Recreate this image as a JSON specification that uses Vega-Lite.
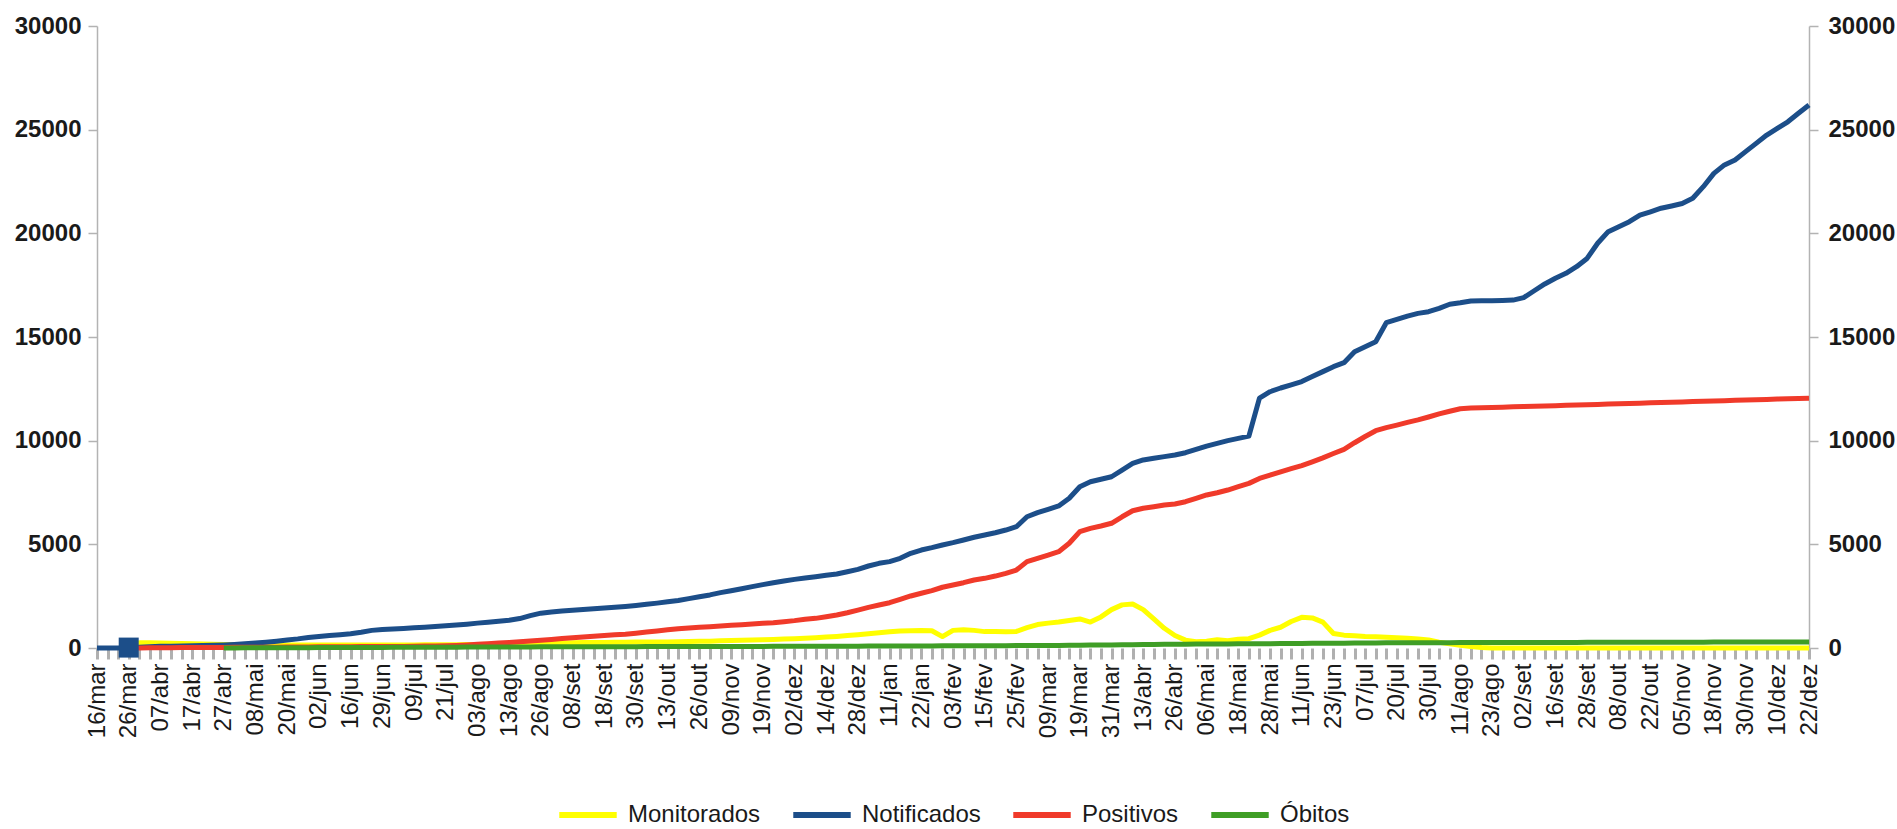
{
  "$schema": "https://vega.github.io/schema/vega-lite/v6.json",
  "width": 1712,
  "height": 622,
  "autosize": {"type": "none"},
  "padding": {"left": 97, "top": 26, "right": 88, "bottom": 181},
  "background": "white",
  "config": {
    "view": {"stroke": null},
    "font": "Liberation Sans",
    "legend": {"layout": {"bottom": {"anchor": "middle"}}}
  },
  "data": {"values": [
    {"data": "2020-03-16", "Monitorados": null, "Notificados": 0, "Positivos": null, "Óbitos": null},
    {"data": "2020-03-19", "Monitorados": null, "Notificados": 0, "Positivos": null, "Óbitos": null},
    {"data": "2020-03-23", "Monitorados": null, "Notificados": 0, "Positivos": null, "Óbitos": null},
    {"data": "2020-03-26", "Monitorados": 50, "Notificados": 20, "Positivos": 0, "Óbitos": null},
    {"data": "2020-03-30", "Monitorados": 250, "Notificados": 40, "Positivos": 5, "Óbitos": null},
    {"data": "2020-04-03", "Monitorados": 250, "Notificados": 60, "Positivos": 10, "Óbitos": null},
    {"data": "2020-04-07", "Monitorados": 240, "Notificados": 80, "Positivos": 15, "Óbitos": null},
    {"data": "2020-04-10", "Monitorados": 230, "Notificados": 90, "Positivos": 18, "Óbitos": null},
    {"data": "2020-04-14", "Monitorados": 220, "Notificados": 100, "Positivos": 20, "Óbitos": null},
    {"data": "2020-04-17", "Monitorados": 200, "Notificados": 110, "Positivos": 22, "Óbitos": null},
    {"data": "2020-04-20", "Monitorados": 190, "Notificados": 120, "Positivos": 25, "Óbitos": null},
    {"data": "2020-04-24", "Monitorados": 180, "Notificados": 130, "Positivos": 28, "Óbitos": null},
    {"data": "2020-04-27", "Monitorados": 170, "Notificados": 150, "Positivos": 30, "Óbitos": 3},
    {"data": "2020-05-01", "Monitorados": 160, "Notificados": 170, "Positivos": 32, "Óbitos": 5},
    {"data": "2020-05-04", "Monitorados": 150, "Notificados": 200, "Positivos": 34, "Óbitos": 7},
    {"data": "2020-05-08", "Monitorados": 150, "Notificados": 240, "Positivos": 36, "Óbitos": 10},
    {"data": "2020-05-12", "Monitorados": 150, "Notificados": 280, "Positivos": 38, "Óbitos": 12},
    {"data": "2020-05-16", "Monitorados": 150, "Notificados": 330, "Positivos": 41, "Óbitos": 13},
    {"data": "2020-05-20", "Monitorados": 150, "Notificados": 385, "Positivos": 45, "Óbitos": 15},
    {"data": "2020-05-24", "Monitorados": 150, "Notificados": 440, "Positivos": 48, "Óbitos": 17},
    {"data": "2020-05-29", "Monitorados": 150, "Notificados": 510, "Positivos": 51, "Óbitos": 18},
    {"data": "2020-06-02", "Monitorados": 150, "Notificados": 560, "Positivos": 55, "Óbitos": 20},
    {"data": "2020-06-07", "Monitorados": 150, "Notificados": 600, "Positivos": 58, "Óbitos": 22},
    {"data": "2020-06-11", "Monitorados": 150, "Notificados": 640, "Positivos": 61, "Óbitos": 23},
    {"data": "2020-06-16", "Monitorados": 150, "Notificados": 690, "Positivos": 65, "Óbitos": 25},
    {"data": "2020-06-20", "Monitorados": 150, "Notificados": 760, "Positivos": 67, "Óbitos": 27},
    {"data": "2020-06-25", "Monitorados": 150, "Notificados": 850, "Positivos": 68, "Óbitos": 28},
    {"data": "2020-06-29", "Monitorados": 150, "Notificados": 890, "Positivos": 70, "Óbitos": 30},
    {"data": "2020-07-02", "Monitorados": 150, "Notificados": 915, "Positivos": 73, "Óbitos": 32},
    {"data": "2020-07-06", "Monitorados": 150, "Notificados": 945, "Positivos": 76, "Óbitos": 33},
    {"data": "2020-07-09", "Monitorados": 150, "Notificados": 975, "Positivos": 85, "Óbitos": 35},
    {"data": "2020-07-13", "Monitorados": 155, "Notificados": 1000, "Positivos": 92, "Óbitos": 37},
    {"data": "2020-07-17", "Monitorados": 155, "Notificados": 1035, "Positivos": 100, "Óbitos": 38},
    {"data": "2020-07-21", "Monitorados": 160, "Notificados": 1070, "Positivos": 110, "Óbitos": 40},
    {"data": "2020-07-25", "Monitorados": 160, "Notificados": 1110, "Positivos": 125, "Óbitos": 42},
    {"data": "2020-07-30", "Monitorados": 165, "Notificados": 1150, "Positivos": 150, "Óbitos": 43},
    {"data": "2020-08-03", "Monitorados": 170, "Notificados": 1200, "Positivos": 180, "Óbitos": 45},
    {"data": "2020-08-06", "Monitorados": 175, "Notificados": 1245, "Positivos": 210, "Óbitos": 47},
    {"data": "2020-08-10", "Monitorados": 180, "Notificados": 1290, "Positivos": 240, "Óbitos": 48},
    {"data": "2020-08-13", "Monitorados": 190, "Notificados": 1340, "Positivos": 265, "Óbitos": 50},
    {"data": "2020-08-17", "Monitorados": 200, "Notificados": 1420, "Positivos": 300, "Óbitos": 52},
    {"data": "2020-08-22", "Monitorados": 210, "Notificados": 1560, "Positivos": 340, "Óbitos": 53},
    {"data": "2020-08-26", "Monitorados": 220, "Notificados": 1680, "Positivos": 375, "Óbitos": 55},
    {"data": "2020-08-30", "Monitorados": 230, "Notificados": 1740, "Positivos": 415, "Óbitos": 57},
    {"data": "2020-09-04", "Monitorados": 240, "Notificados": 1785, "Positivos": 455, "Óbitos": 58},
    {"data": "2020-09-08", "Monitorados": 250, "Notificados": 1825, "Positivos": 495, "Óbitos": 60},
    {"data": "2020-09-11", "Monitorados": 260, "Notificados": 1860, "Positivos": 535, "Óbitos": 61},
    {"data": "2020-09-15", "Monitorados": 265, "Notificados": 1895, "Positivos": 570, "Óbitos": 62},
    {"data": "2020-09-18", "Monitorados": 270, "Notificados": 1925, "Positivos": 600, "Óbitos": 63},
    {"data": "2020-09-22", "Monitorados": 275, "Notificados": 1965, "Positivos": 635, "Óbitos": 64},
    {"data": "2020-09-26", "Monitorados": 280, "Notificados": 2005, "Positivos": 665, "Óbitos": 65},
    {"data": "2020-09-30", "Monitorados": 285, "Notificados": 2055, "Positivos": 715, "Óbitos": 66},
    {"data": "2020-10-04", "Monitorados": 290, "Notificados": 2105, "Positivos": 770, "Óbitos": 67},
    {"data": "2020-10-09", "Monitorados": 295, "Notificados": 2165, "Positivos": 825, "Óbitos": 68},
    {"data": "2020-10-13", "Monitorados": 295, "Notificados": 2230, "Positivos": 875, "Óbitos": 70},
    {"data": "2020-10-17", "Monitorados": 300, "Notificados": 2290, "Positivos": 930, "Óbitos": 71},
    {"data": "2020-10-22", "Monitorados": 310, "Notificados": 2380, "Positivos": 970, "Óbitos": 71},
    {"data": "2020-10-26", "Monitorados": 320, "Notificados": 2475, "Positivos": 1000, "Óbitos": 72},
    {"data": "2020-10-31", "Monitorados": 330, "Notificados": 2560, "Positivos": 1030, "Óbitos": 73},
    {"data": "2020-11-04", "Monitorados": 345, "Notificados": 2670, "Positivos": 1060, "Óbitos": 74},
    {"data": "2020-11-09", "Monitorados": 360, "Notificados": 2765, "Positivos": 1095, "Óbitos": 75},
    {"data": "2020-11-12", "Monitorados": 370, "Notificados": 2860, "Positivos": 1125, "Óbitos": 76},
    {"data": "2020-11-16", "Monitorados": 380, "Notificados": 2960, "Positivos": 1160, "Óbitos": 77},
    {"data": "2020-11-19", "Monitorados": 395, "Notificados": 3055, "Positivos": 1190, "Óbitos": 78},
    {"data": "2020-11-23", "Monitorados": 410, "Notificados": 3150, "Positivos": 1220, "Óbitos": 79},
    {"data": "2020-11-28", "Monitorados": 430, "Notificados": 3230, "Positivos": 1270, "Óbitos": 80},
    {"data": "2020-12-02", "Monitorados": 450, "Notificados": 3310, "Positivos": 1320, "Óbitos": 82},
    {"data": "2020-12-06", "Monitorados": 470, "Notificados": 3375, "Positivos": 1385, "Óbitos": 83},
    {"data": "2020-12-10", "Monitorados": 500, "Notificados": 3440, "Positivos": 1430, "Óbitos": 85},
    {"data": "2020-12-14", "Monitorados": 530, "Notificados": 3505, "Positivos": 1510, "Óbitos": 86},
    {"data": "2020-12-19", "Monitorados": 560, "Notificados": 3570, "Positivos": 1590, "Óbitos": 87},
    {"data": "2020-12-23", "Monitorados": 600, "Notificados": 3680, "Positivos": 1700, "Óbitos": 89},
    {"data": "2020-12-28", "Monitorados": 640, "Notificados": 3795, "Positivos": 1830, "Óbitos": 90},
    {"data": "2021-01-02", "Monitorados": 690, "Notificados": 3955, "Positivos": 1960, "Óbitos": 92},
    {"data": "2021-01-06", "Monitorados": 730, "Notificados": 4085, "Positivos": 2075, "Óbitos": 93},
    {"data": "2021-01-11", "Monitorados": 780, "Notificados": 4165, "Positivos": 2185, "Óbitos": 95},
    {"data": "2021-01-15", "Monitorados": 820, "Notificados": 4325, "Positivos": 2350, "Óbitos": 97},
    {"data": "2021-01-18", "Monitorados": 830, "Notificados": 4565, "Positivos": 2510, "Óbitos": 98},
    {"data": "2021-01-22", "Monitorados": 840, "Notificados": 4725, "Positivos": 2640, "Óbitos": 100},
    {"data": "2021-01-26", "Monitorados": 830, "Notificados": 4840, "Positivos": 2765, "Óbitos": 102},
    {"data": "2021-01-30", "Monitorados": 550, "Notificados": 4970, "Positivos": 2930, "Óbitos": 103},
    {"data": "2021-02-03", "Monitorados": 850, "Notificados": 5080, "Positivos": 3040, "Óbitos": 105},
    {"data": "2021-02-07", "Monitorados": 880, "Notificados": 5210, "Positivos": 3150, "Óbitos": 107},
    {"data": "2021-02-11", "Monitorados": 850, "Notificados": 5340, "Positivos": 3280, "Óbitos": 108},
    {"data": "2021-02-15", "Monitorados": 790, "Notificados": 5450, "Positivos": 3360, "Óbitos": 110},
    {"data": "2021-02-18", "Monitorados": 800, "Notificados": 5560, "Positivos": 3470, "Óbitos": 112},
    {"data": "2021-02-22", "Monitorados": 780, "Notificados": 5690, "Positivos": 3600, "Óbitos": 113},
    {"data": "2021-02-25", "Monitorados": 800, "Notificados": 5850, "Positivos": 3760, "Óbitos": 115},
    {"data": "2021-03-01", "Monitorados": 980, "Notificados": 6330, "Positivos": 4165, "Óbitos": 117},
    {"data": "2021-03-05", "Monitorados": 1130, "Notificados": 6530, "Positivos": 4325, "Óbitos": 120},
    {"data": "2021-03-09", "Monitorados": 1200, "Notificados": 6690, "Positivos": 4485, "Óbitos": 122},
    {"data": "2021-03-12", "Monitorados": 1250, "Notificados": 6850, "Positivos": 4645, "Óbitos": 126},
    {"data": "2021-03-16", "Monitorados": 1330, "Notificados": 7220, "Positivos": 5050, "Óbitos": 130},
    {"data": "2021-03-19", "Monitorados": 1400, "Notificados": 7780, "Positivos": 5610, "Óbitos": 135},
    {"data": "2021-03-23", "Monitorados": 1250, "Notificados": 8020, "Positivos": 5770, "Óbitos": 140},
    {"data": "2021-03-27", "Monitorados": 1500, "Notificados": 8140, "Positivos": 5885, "Óbitos": 145},
    {"data": "2021-03-31", "Monitorados": 1850, "Notificados": 8260, "Positivos": 6015, "Óbitos": 150},
    {"data": "2021-04-04", "Monitorados": 2080, "Notificados": 8580, "Positivos": 6330, "Óbitos": 155},
    {"data": "2021-04-09", "Monitorados": 2120, "Notificados": 8900, "Positivos": 6620, "Óbitos": 160},
    {"data": "2021-04-13", "Monitorados": 1850, "Notificados": 9070, "Positivos": 6740, "Óbitos": 165},
    {"data": "2021-04-17", "Monitorados": 1400, "Notificados": 9150, "Positivos": 6815, "Óbitos": 170},
    {"data": "2021-04-22", "Monitorados": 950, "Notificados": 9230, "Positivos": 6900, "Óbitos": 175},
    {"data": "2021-04-26", "Monitorados": 600, "Notificados": 9310, "Positivos": 6945, "Óbitos": 180},
    {"data": "2021-04-29", "Monitorados": 380, "Notificados": 9420, "Positivos": 7055, "Óbitos": 183},
    {"data": "2021-05-03", "Monitorados": 300, "Notificados": 9580, "Positivos": 7220, "Óbitos": 187},
    {"data": "2021-05-06", "Monitorados": 330, "Notificados": 9740, "Positivos": 7380, "Óbitos": 190},
    {"data": "2021-05-10", "Monitorados": 400, "Notificados": 9870, "Positivos": 7490, "Óbitos": 193},
    {"data": "2021-05-14", "Monitorados": 350, "Notificados": 10000, "Positivos": 7620, "Óbitos": 197},
    {"data": "2021-05-18", "Monitorados": 420, "Notificados": 10110, "Positivos": 7780, "Óbitos": 200},
    {"data": "2021-05-21", "Monitorados": 450, "Notificados": 10220, "Positivos": 7940, "Óbitos": 203},
    {"data": "2021-05-25", "Monitorados": 620, "Notificados": 12050, "Positivos": 8180, "Óbitos": 207},
    {"data": "2021-05-28", "Monitorados": 850, "Notificados": 12360, "Positivos": 8340, "Óbitos": 210},
    {"data": "2021-06-02", "Monitorados": 1000, "Notificados": 12540, "Positivos": 8500, "Óbitos": 213},
    {"data": "2021-06-06", "Monitorados": 1280, "Notificados": 12690, "Positivos": 8650, "Óbitos": 217},
    {"data": "2021-06-11", "Monitorados": 1480, "Notificados": 12850, "Positivos": 8800, "Óbitos": 220},
    {"data": "2021-06-15", "Monitorados": 1450, "Notificados": 13090, "Positivos": 8980, "Óbitos": 224},
    {"data": "2021-06-19", "Monitorados": 1250, "Notificados": 13330, "Positivos": 9170, "Óbitos": 228},
    {"data": "2021-06-23", "Monitorados": 700, "Notificados": 13570, "Positivos": 9380, "Óbitos": 232},
    {"data": "2021-06-28", "Monitorados": 620, "Notificados": 13760, "Positivos": 9580, "Óbitos": 235},
    {"data": "2021-07-02", "Monitorados": 590, "Notificados": 14290, "Positivos": 9900, "Óbitos": 239},
    {"data": "2021-07-07", "Monitorados": 560, "Notificados": 14530, "Positivos": 10200, "Óbitos": 242},
    {"data": "2021-07-11", "Monitorados": 545, "Notificados": 14770, "Positivos": 10480, "Óbitos": 245},
    {"data": "2021-07-16", "Monitorados": 520, "Notificados": 15690, "Positivos": 10630, "Óbitos": 248},
    {"data": "2021-07-20", "Monitorados": 500, "Notificados": 15850, "Positivos": 10750, "Óbitos": 250},
    {"data": "2021-07-23", "Monitorados": 470, "Notificados": 16010, "Positivos": 10880, "Óbitos": 252},
    {"data": "2021-07-27", "Monitorados": 430, "Notificados": 16140, "Positivos": 11000, "Óbitos": 253},
    {"data": "2021-07-30", "Monitorados": 385, "Notificados": 16220, "Positivos": 11140, "Óbitos": 255},
    {"data": "2021-08-03", "Monitorados": 280, "Notificados": 16380, "Positivos": 11290, "Óbitos": 257},
    {"data": "2021-08-07", "Monitorados": 200, "Notificados": 16580, "Positivos": 11420, "Óbitos": 258},
    {"data": "2021-08-11", "Monitorados": 130, "Notificados": 16650, "Positivos": 11540, "Óbitos": 260},
    {"data": "2021-08-15", "Monitorados": 70, "Notificados": 16740, "Positivos": 11570, "Óbitos": 261},
    {"data": "2021-08-19", "Monitorados": 20, "Notificados": 16750, "Positivos": 11590, "Óbitos": 262},
    {"data": "2021-08-23", "Monitorados": 0, "Notificados": 16750, "Positivos": 11600, "Óbitos": 263},
    {"data": "2021-08-26", "Monitorados": 0, "Notificados": 16760, "Positivos": 11615, "Óbitos": 264},
    {"data": "2021-08-30", "Monitorados": 0, "Notificados": 16780, "Positivos": 11630, "Óbitos": 265},
    {"data": "2021-09-02", "Monitorados": 0, "Notificados": 16900, "Positivos": 11645, "Óbitos": 266},
    {"data": "2021-09-07", "Monitorados": 0, "Notificados": 17230, "Positivos": 11660, "Óbitos": 267},
    {"data": "2021-09-11", "Monitorados": 0, "Notificados": 17560, "Positivos": 11675, "Óbitos": 268},
    {"data": "2021-09-16", "Monitorados": 0, "Notificados": 17830, "Positivos": 11690, "Óbitos": 269},
    {"data": "2021-09-20", "Monitorados": 0, "Notificados": 18070, "Positivos": 11705, "Óbitos": 270},
    {"data": "2021-09-24", "Monitorados": 0, "Notificados": 18390, "Positivos": 11720, "Óbitos": 271},
    {"data": "2021-09-28", "Monitorados": 0, "Notificados": 18790, "Positivos": 11735, "Óbitos": 272},
    {"data": "2021-10-01", "Monitorados": 0, "Notificados": 19520, "Positivos": 11750, "Óbitos": 273},
    {"data": "2021-10-05", "Monitorados": 0, "Notificados": 20080, "Positivos": 11765, "Óbitos": 274},
    {"data": "2021-10-08", "Monitorados": 0, "Notificados": 20320, "Positivos": 11780, "Óbitos": 275},
    {"data": "2021-10-13", "Monitorados": 0, "Notificados": 20560, "Positivos": 11795, "Óbitos": 276},
    {"data": "2021-10-17", "Monitorados": 0, "Notificados": 20880, "Positivos": 11810, "Óbitos": 277},
    {"data": "2021-10-22", "Monitorados": 0, "Notificados": 21040, "Positivos": 11825, "Óbitos": 278},
    {"data": "2021-10-27", "Monitorados": 0, "Notificados": 21210, "Positivos": 11840, "Óbitos": 279},
    {"data": "2021-10-31", "Monitorados": 0, "Notificados": 21320, "Positivos": 11855, "Óbitos": 280},
    {"data": "2021-11-05", "Monitorados": 0, "Notificados": 21440, "Positivos": 11870, "Óbitos": 281},
    {"data": "2021-11-09", "Monitorados": 0, "Notificados": 21690, "Positivos": 11885, "Óbitos": 282},
    {"data": "2021-11-14", "Monitorados": 0, "Notificados": 22250, "Positivos": 11900, "Óbitos": 283},
    {"data": "2021-11-18", "Monitorados": 0, "Notificados": 22890, "Positivos": 11915, "Óbitos": 284},
    {"data": "2021-11-22", "Monitorados": 0, "Notificados": 23300, "Positivos": 11930, "Óbitos": 285},
    {"data": "2021-11-26", "Monitorados": 0, "Notificados": 23540, "Positivos": 11945, "Óbitos": 286},
    {"data": "2021-11-30", "Monitorados": 0, "Notificados": 23940, "Positivos": 11960, "Óbitos": 287},
    {"data": "2021-12-03", "Monitorados": 0, "Notificados": 24340, "Positivos": 11975, "Óbitos": 288},
    {"data": "2021-12-07", "Monitorados": 0, "Notificados": 24740, "Positivos": 11990, "Óbitos": 288},
    {"data": "2021-12-10", "Monitorados": 0, "Notificados": 25060, "Positivos": 12005, "Óbitos": 289},
    {"data": "2021-12-14", "Monitorados": 0, "Notificados": 25380, "Positivos": 12020, "Óbitos": 289},
    {"data": "2021-12-18", "Monitorados": 0, "Notificados": 25790, "Positivos": 12030, "Óbitos": 290},
    {"data": "2021-12-22", "Monitorados": 0, "Notificados": 26190, "Positivos": 12040, "Óbitos": 290}
  ]},
  "transform": [
    {"fold": ["Monitorados", "Notificados", "Positivos", "Óbitos"], "as": ["serie", "valor"]}
  ],
  "layer": [
    {
      "mark": {"type": "line", "strokeWidth": 5, "strokeJoin": "round", "strokeCap": "butt"},
      "encoding": {
        "x": {
          "field": "data", "type": "ordinal", "sort": null,
          "scale": {"type": "point", "padding": 0},
          "axis": {
            "title": null,
            "domain": false,
            "ticks": true, "tickSize": 11, "tickWidth": 3, "tickColor": "#b0b0b0",
            "labelAngle": 270, "labelPadding": 4, "labelFontSize": 24, "labelColor": "#1a1a1a",
            "labelFont": "Liberation Sans", "labelOverlap": false, "labelBound": false, "labelFlush": false,
            "labelExpr": "indexof(['2020-03-16','2020-03-26','2020-04-07','2020-04-17','2020-04-27','2020-05-08','2020-05-20','2020-06-02','2020-06-16','2020-06-29','2020-07-09','2020-07-21','2020-08-03','2020-08-13','2020-08-26','2020-09-08','2020-09-18','2020-09-30','2020-10-13','2020-10-26','2020-11-09','2020-11-19','2020-12-02','2020-12-14','2020-12-28','2021-01-11','2021-01-22','2021-02-03','2021-02-15','2021-02-25','2021-03-09','2021-03-19','2021-03-31','2021-04-13','2021-04-26','2021-05-06','2021-05-18','2021-05-28','2021-06-11','2021-06-23','2021-07-07','2021-07-20','2021-07-30','2021-08-11','2021-08-23','2021-09-02','2021-09-16','2021-09-28','2021-10-08','2021-10-22','2021-11-05','2021-11-18','2021-11-30','2021-12-10','2021-12-22'], datum.value) >= 0 ? slice(datum.value, 8, 10) + '/' + ['jan','fev','mar','abr','mai','jun','jul','ago','set','out','nov','dez'][toNumber(slice(datum.value, 5, 7)) - 1] : ''"
          }
        },
        "y": {
          "field": "valor", "type": "quantitative",
          "scale": {"domain": [0, 30000], "nice": false},
          "axis": {
            "orient": "left", "title": null, "grid": false, "format": "d",
            "values": [0, 5000, 10000, 15000, 20000, 25000, 30000],
            "domainColor": "#b3b3b3", "domainWidth": 1.5,
            "tickColor": "#b3b3b3", "tickSize": 9, "tickWidth": 1.5,
            "labelPadding": 7, "labelFontSize": 24, "labelFontWeight": "bold",
            "labelColor": "#1a1a1a", "labelFont": "Liberation Sans"
          }
        },
        "color": {
          "field": "serie", "type": "nominal",
          "scale": {
            "domain": ["Monitorados", "Notificados", "Positivos", "Óbitos"],
            "range": ["#ffff00", "#1c4e89", "#f03a2a", "#3f9e26"]
          },
          "legend": {
            "title": null, "orient": "bottom", "direction": "horizontal",
            "offset": 45, "symbolType": "stroke", "symbolStrokeWidth": 6, "symbolSize": 3300,
            "labelFontSize": 24, "labelFont": "Liberation Sans", "labelColor": "#1a1a1a",
            "labelOffset": 8, "columnPadding": 20
          }
        }
      }
    },
    {
      "transform": [{"filter": "datum.serie == 'Notificados' && datum.data == '2020-03-26'"}],
      "mark": {"type": "point", "shape": "square", "filled": true, "size": 400, "opacity": 1, "color": "#1c4e89"},
      "encoding": {
        "x": {"field": "data", "type": "ordinal", "sort": null},
        "y": {
          "field": "valor", "type": "quantitative",
          "scale": {"domain": [0, 30000], "nice": false},
          "axis": {
            "orient": "right", "title": null, "grid": false, "format": "d",
            "values": [0, 5000, 10000, 15000, 20000, 25000, 30000],
            "domainColor": "#b3b3b3", "domainWidth": 1.5,
            "tickColor": "#b3b3b3", "tickSize": 9, "tickWidth": 1.5,
            "labelPadding": 10, "labelFontSize": 24, "labelFontWeight": "bold",
            "labelColor": "#1a1a1a", "labelFont": "Liberation Sans"
          }
        }
      }
    }
  ],
  "resolve": {"axis": {"y": "independent"}}
}
